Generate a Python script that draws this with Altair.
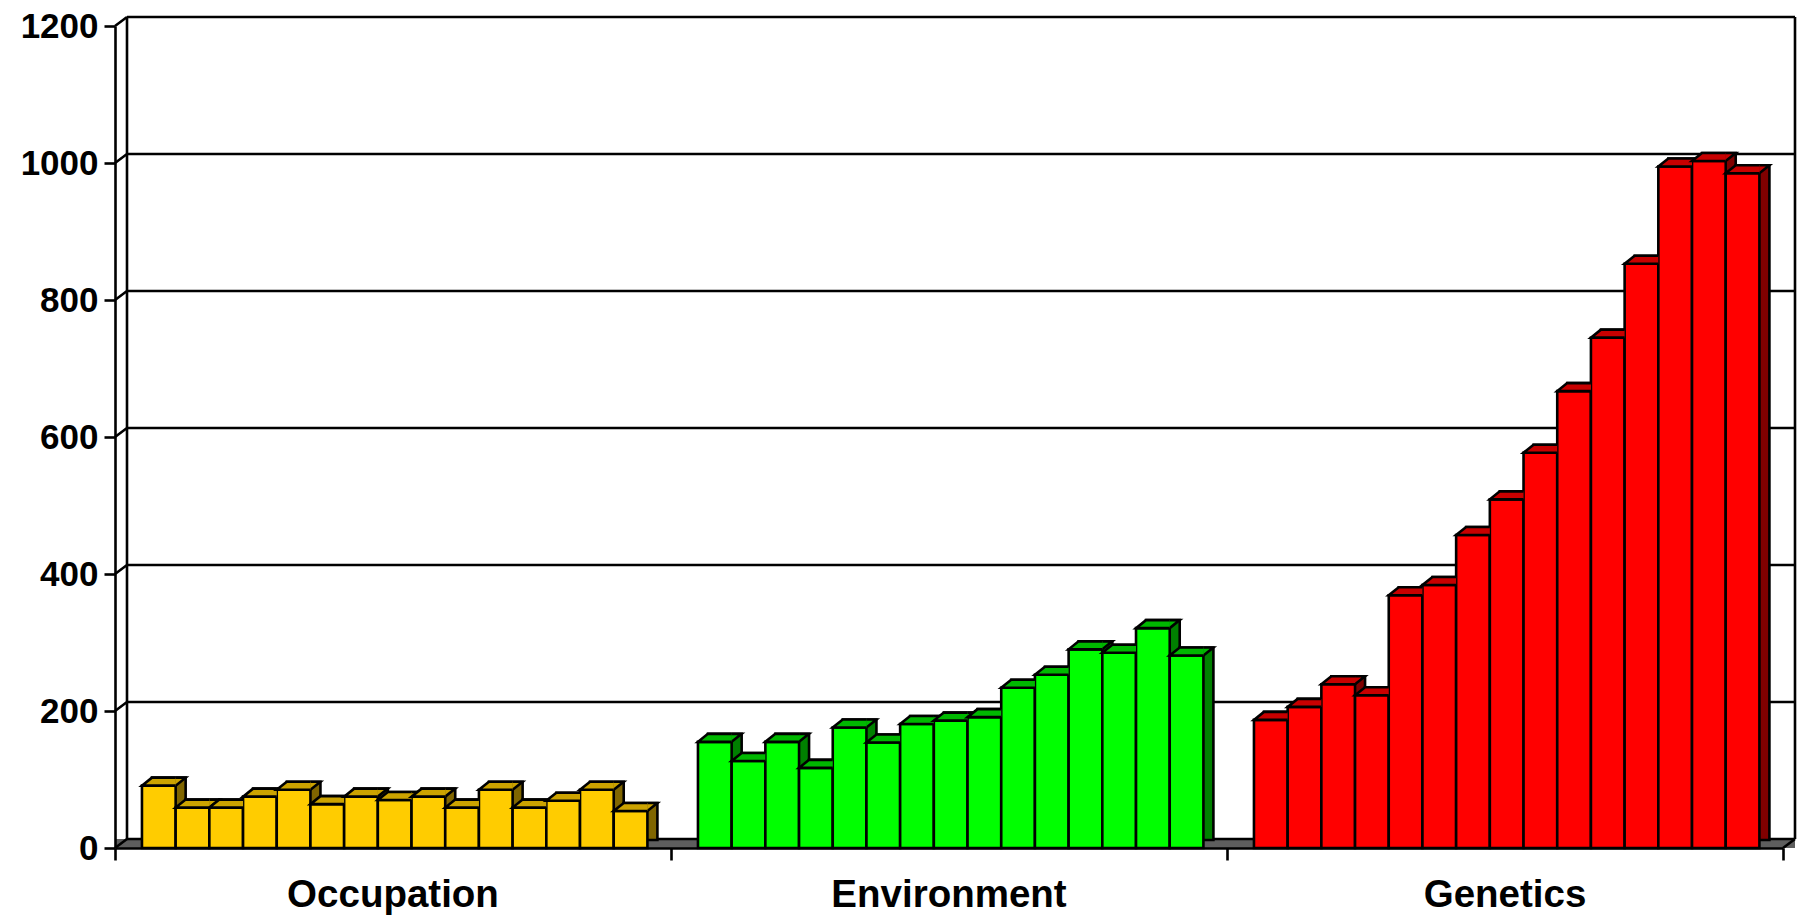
import altair as alt
import pandas as pd

# ---- data ----
categories = ["Occupation", "Environment", "Genetics"]
occupation = [91, 59, 59, 75, 85, 64, 75, 70, 75, 59, 85, 59, 69, 85, 54]
environment = [155, 127, 155, 117, 176, 154, 181, 186, 191, 234, 253, 290, 285, 321, 281]
genetics = [187, 206, 239, 223, 369, 384, 457, 509, 577, 667, 745, 853, 995, 1003, 985]
y_ticks = [0, 200, 400, 600, 800, 1000, 1200]

# ---- styling ----
front_colors = {"Occupation": "#FFCC00", "Environment": "#00FF00", "Genetics": "#FF0000"}
top_colors = {"Occupation": "#CCA300", "Environment": "#00B800", "Genetics": "#C80000"}
side_colors = {"Occupation": "#806600", "Environment": "#008000", "Genetics": "#800000"}
FONT = "Liberation Sans"

W, H = 1668, 822          # plot area
BAND = 16.5               # x units per category (1 unit = one column)
LEAD = 0.8                # space before the first column of a category
UNIT = W / (3 * BAND)     # pixel width of one column
HW = UNIT / 2
DX, DY = 10, 8            # column depth offset (px)
WX, WY = 12, 9            # wall depth offset (px)
LW = 2.6                  # outline width

rows = []
for g, (cat, vals) in enumerate(zip(categories, [occupation, environment, genetics])):
    for i, v in enumerate(vals):
        x0 = g * BAND + LEAD + i
        rows.append(dict(cat=cat, i=i, value=v, x0=x0, x1=x0 + 1, xc=x0 + 0.5,
                         front=front_colors[cat], top=top_colors[cat], side=side_colors[cat]))
df = pd.DataFrame(rows)
grid_df = pd.DataFrame({"v": y_ticks})
edge_df = pd.DataFrame({"lo": [y_ticks[0]], "hi": [y_ticks[-1]]})
label_df = pd.DataFrame({"cat": categories,
                         "xm": [g * BAND + BAND / 2 for g in range(len(categories))],
                         "lo": [y_ticks[0]] * len(categories)})

xscale = alt.Scale(domain=[0, 3 * BAND], nice=False, zero=False)
yscale = alt.Scale(domain=[y_ticks[0], y_ticks[-1]], nice=False)

x_axis = alt.Axis(values=[0, BAND, 2 * BAND, 3 * BAND], labels=False, title=None,
                  grid=False, tickSize=12, tickColor="black", tickWidth=LW,
                  domainColor="black", domainWidth=LW, zindex=1)
y_axis = alt.Axis(values=y_ticks, title=None, grid=False, format="d",
                  labelFont=FONT, labelFontSize=35, labelFontWeight="bold",
                  labelColor="black", labelPadding=6,
                  tickSize=11, tickColor="black", tickWidth=LW,
                  domainColor="black", domainWidth=LW, zindex=1)


def X(field):
    return alt.X(field, scale=xscale, axis=x_axis)


def Y(field):
    return alt.Y(field, scale=yscale, axis=y_axis)


# top face of a column: front edge, left diagonal, back edge (open path, fill closes it)
top_left_path = f"M{HW:.2f},0 L{-HW:.2f},0 L{-HW + DX:.2f},{-DY} L{HW:.2f},{-DY}"
# part of the top face that sticks out over the column's right side
top_right_path = f"M{HW:.2f},{-DY} L{HW + DX:.2f},{-DY} L{HW:.2f},0"

line = dict(stroke="black", strokeWidth=LW)

floor = alt.Chart(edge_df).mark_rect(fill="#5E5E5E", y2Offset=-WY).encode(
    x=alt.value(0), x2=alt.value(W + WX), y=Y("lo:Q"), y2="lo:Q")

gridlines = alt.Chart(grid_df).mark_rule(yOffset=-WY, **line).encode(
    x=alt.value(WX), x2=alt.value(W + WX), y=Y("v:Q"))

wall_diagonals = alt.Chart(grid_df).mark_rule(y2Offset=-WY, **line).encode(
    x=alt.value(0), x2=alt.value(WX), y=Y("v:Q"), y2="v:Q")

floor_corner = alt.Chart(edge_df).mark_rule(y2Offset=-WY, **line).encode(
    x=alt.value(W), x2=alt.value(W + WX), y=Y("lo:Q"), y2="lo:Q")

back_left = alt.Chart(edge_df).mark_rule(yOffset=-WY, y2Offset=-WY, **line).encode(
    x=alt.value(WX), y=Y("lo:Q"), y2="hi:Q")

back_right = alt.Chart(edge_df).mark_rule(yOffset=-WY, y2Offset=-WY, **line).encode(
    x=alt.value(W + WX), y=Y("lo:Q"), y2="hi:Q")

base = alt.Chart(df)

sides = base.mark_rect(xOffset=DX, x2Offset=DX, yOffset=-DY, y2Offset=-DY, **line).encode(
    x=X("x0:Q"), x2="x1:Q", y=Y("value:Q"), y2=alt.datum(0),
    fill=alt.Fill("side:N", scale=None))

tops_right = base.mark_point(shape=top_right_path, size=4, filled=True, opacity=1,
                             strokeJoin="miter", **line).encode(
    x=X("xc:Q"), y=Y("value:Q"), fill=alt.Fill("top:N", scale=None))

fronts = base.mark_rect(**line).encode(
    x=X("x0:Q"), x2="x1:Q", y=Y("value:Q"), y2=alt.datum(0),
    fill=alt.Fill("front:N", scale=None))

tops = base.mark_point(shape=top_left_path, size=4, filled=True, opacity=1,
                       strokeJoin="miter", **line).encode(
    x=X("xc:Q"), y=Y("value:Q"), fill=alt.Fill("top:N", scale=None))

labels = alt.Chart(label_df).mark_text(font=FONT, fontSize=38.5, fontWeight="bold",
                                       color="black", baseline="alphabetic", dy=59).encode(
    x=X("xm:Q"), y=Y("lo:Q"), text="cat:N")

chart = alt.layer(
    floor, gridlines, wall_diagonals, floor_corner, back_left, back_right,
    sides, tops_right, fronts, tops, labels
).properties(
    width=W, height=H,
    autosize=alt.AutoSizeParams(type="none"),
    padding={"left": 115, "top": 26, "right": 1798 - 115 - W, "bottom": 917 - 26 - H},
    background="white",
).configure_view(stroke=None)

chart.save("out.html", embed_options={"renderer": "svg", "actions": False})
